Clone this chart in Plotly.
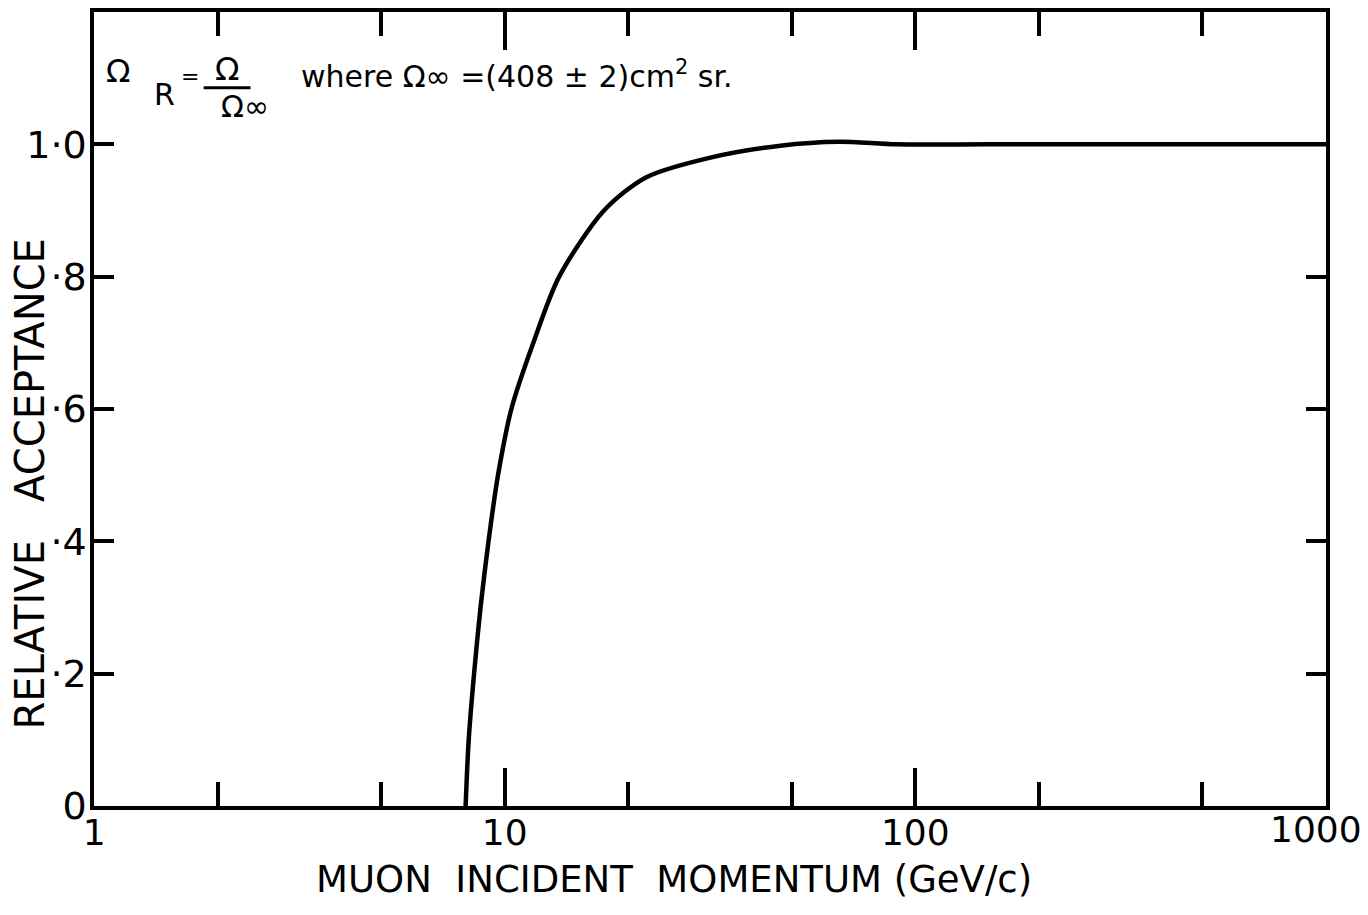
import plotly.graph_objects as go

# Data
momentum = [8.03, 8.17, 8.42, 8.73, 9.13, 9.63, 10.38, 11.74, 13.57, 17.45, 22.07,
            31.7, 46.9, 65, 90, 150, 300, 600, 1000]
acceptance = [0.0, 0.1, 0.2, 0.3, 0.4, 0.5, 0.6, 0.7, 0.8, 0.9, 0.95,
              0.98, 0.998, 1.004, 1.0, 1.0, 1.0, 1.0, 1.0]

x_major = [1, 10, 100]
x_major_text = ["1", "10", "100"]
x_end_label = "1000"
x_minor = [2, 5, 20, 50, 200, 500]
y_ticks = [0, 0.2, 0.4, 0.6, 0.8, 1.0]
y_text = ["0", "·2", "·4", "·6", "·8", "1·0"]
x_title = "MUON  INCIDENT  MOMENTUM (GeV/c)"
y_title = "RELATIVE   ACCEPTANCE"

FONT = "DejaVu Sans, Liberation Sans, sans-serif"

fig = go.Figure()
fig.add_trace(go.Scatter(x=momentum, y=acceptance, mode="lines",
                         line=dict(color="black", width=4.5, shape="spline", smoothing=0.8),
                         showlegend=False, hoverinfo="skip"))

fig.update_layout(
    width=1368, height=915,
    margin=dict(l=86, r=50, t=4, b=117),
    paper_bgcolor="white", plot_bgcolor="white",
    font=dict(family=FONT, color="black"),
    xaxis=dict(type="log", range=[-0.0005, 3.0005], showgrid=False, zeroline=False,
               automargin=False, ticklabeloverflow="allow",
               showline=True, linecolor="black", linewidth=3.5, mirror="allticks",
               tickmode="array", tickvals=x_major, ticktext=x_major_text,
               ticks="inside", ticklen=38, tickwidth=3.5, tickcolor="black",
               tickfont=dict(size=36, family=FONT), ticklabelstandoff=-8,
               minor=dict(tickmode="array", tickvals=x_minor, ticks="inside",
                          ticklen=24, tickwidth=3.5, tickcolor="black", showgrid=False)),
    yaxis=dict(range=[0, 1.2], showgrid=False, zeroline=False,
               automargin=False, ticklabeloverflow="allow",
               showline=True, linecolor="black", linewidth=3.5, mirror="allticks",
               tickmode="array", tickvals=y_ticks, ticktext=y_text,
               ticks="inside", ticklen=20, tickwidth=3.5, tickcolor="black",
               tickfont=dict(size=38, family=FONT), ticklabelstandoff=-4),
)

# Text positions in page pixels -> paper coordinates (plot area 92..1328 x, 11..808 y)
def px(xp):
    return (xp - 92) / 1236

def py(yp):
    return (808 - yp) / 797

# Last x tick label, nudged left so it stays inside the page
fig.add_annotation(x=px(1318), y=py(832), xref="paper", yref="paper", text=x_end_label,
                   showarrow=False, xanchor="center", yanchor="middle",
                   font=dict(size=36, family=FONT))

# Axis titles
fig.add_annotation(x=px(674), y=py(882), xref="paper", yref="paper", text=x_title,
                   showarrow=False, xanchor="center", yanchor="middle",
                   font=dict(size=37, family=FONT))
fig.add_annotation(x=px(28), y=py(485), xref="paper", yref="paper", text=y_title,
                   textangle=-90, showarrow=False, xanchor="center", yanchor="middle",
                   font=dict(size=40, family=FONT))

# Formula annotation (top-left)
fs = 30
fig.add_annotation(x=px(102), y=py(70), xref="paper", yref="paper", text="Ω",
                   showarrow=False, xanchor="left", yanchor="middle", font=dict(size=32, family=FONT))
fig.add_annotation(x=px(150), y=py(94), xref="paper", yref="paper", text="R",
                   showarrow=False, xanchor="left", yanchor="middle", font=dict(size=fs, family=FONT))
fig.add_annotation(x=px(177), y=py(76), xref="paper", yref="paper", text="=",
                   showarrow=False, xanchor="left", yanchor="middle", font=dict(size=22, family=FONT))
fig.add_annotation(x=px(225), y=py(68), xref="paper", yref="paper", text="Ω",
                   showarrow=False, xanchor="center", yanchor="middle", font=dict(size=32, family=FONT))
fig.add_annotation(x=px(243), y=py(106), xref="paper", yref="paper", text="Ω∞",
                   showarrow=False, xanchor="center", yanchor="middle", font=dict(size=fs, family=FONT))
fig.add_shape(type="line", xref="paper", yref="paper", x0=px(202), x1=px(249), y0=py(87), y1=py(87),
              line=dict(color="black", width=3))
fig.add_annotation(x=px(298), y=py(74), xref="paper", yref="paper",
                   text="where Ω∞ =(408 ± 2)cm<sup>2</sup> sr.",
                   showarrow=False, xanchor="left", yanchor="middle", font=dict(size=fs, family=FONT))

fig.write_html("out.html")
